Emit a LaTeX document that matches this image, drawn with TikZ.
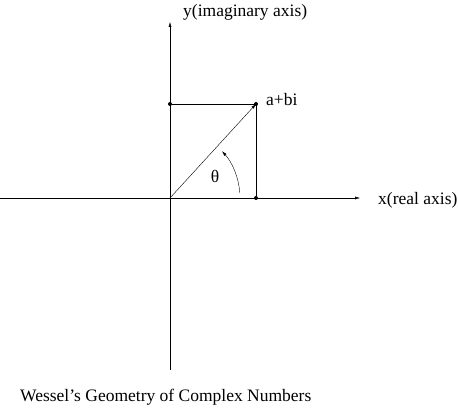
\documentclass[tikz,border=0pt]{standalone}
\usepackage{fontspec}
\setmainfont{Liberation Serif}
\usetikzlibrary{arrows.meta,positioning}

\begin{document}
\begin{tikzpicture}[
  x=1pt, y=1pt,
  axis/.style={thin, -{Latex[length=5pt,width=3pt]}},
  lbl/.style={font=\fontsize{17.5}{20}\selectfont, inner sep=0pt},
  dot/.style={circle, fill=black, inner sep=0pt, minimum size=4pt}
]
\useasboundingbox (0,0) rectangle (458,410);
% points
\coordinate (o) at (170,212);
\coordinate (xl) at (0,212);
\coordinate (xr) at (360,212);
\coordinate (yb) at (170,40);
\coordinate (yt) at (170,388);
\node[dot] (z) at (256,306) {};
\node[dot] (b) at (170,306) {};
\node[dot] (a) at (256,212) {};

% axes
\draw[axis] (xl) -- (xr);
\draw[axis] (yb) -- (yt);
\node[lbl, anchor=west] (xlab) at (378,210) {x(real axis)};
\node[lbl, anchor=west] (ylab) at (183,398) {y(imaginary axis)};

% box and vector
\draw[thin] (b) -- (z.center) -- (a);
\draw[thin, -{Latex[length=5pt,width=3pt]}] (o) -- (z.center);
\node[lbl, anchor=west] (zlab) at (266,310) {a+bi};

% angle
\draw[thin, -{Latex[length=5pt,width=3pt]}] (o) ++(4:70) arc (4:42:70);
\node[lbl] (th) at (215,234) {θ};

\node[lbl, anchor=west] (cap) at (20,13) {Wessel's Geometry of Complex Numbers};
\end{tikzpicture}
\end{document}
